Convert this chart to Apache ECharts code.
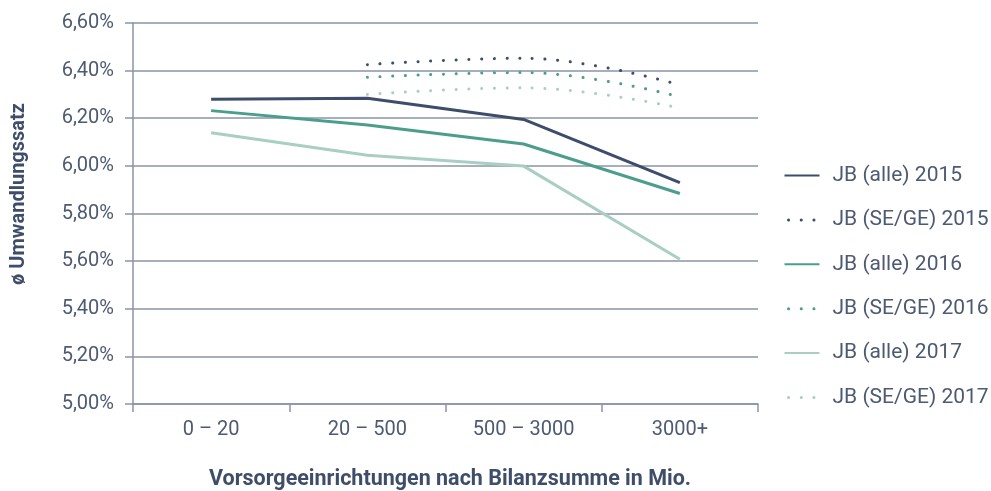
<!DOCTYPE html>
<html><head><meta charset="utf-8">
<script src="https://cdn.jsdelivr.net/npm/echarts@6/dist/echarts.min.js"></script>
<style>html,body{margin:0;padding:0;background:#fff}#c{width:991px;height:491px}</style>
</head><body><div id="c"></div>
<script>
var categories = ['0 – 20', '20 – 500', '500 – 3000', '3000+'];
var alle2015 = [6.28, 6.284, 6.195, 5.93];
var sege2015 = [null, 6.425, 6.452, 6.34];
var alle2016 = [6.232, 6.172, 6.092, 5.884];
var sege2016 = [null, 6.372, 6.392, 6.29];
var alle2017 = [6.139, 6.045, 5.999, 5.608];
var sege2017 = [null, 6.300, 6.328, 6.243];
var seriesNames = ['JB (alle) 2015', 'JB (SE/GE) 2015', 'JB (alle) 2016', 'JB (SE/GE) 2016', 'JB (alle) 2017', 'JB (SE/GE) 2017'];
var yTitle = 'ø Umwandlungssatz';
var xTitle = 'Vorsorgeeinrichtungen nach Bilanzsumme in Mio.';

var cDark = '#3e4e6a', cTeal = '#4b9e8c', cLight = '#a9cfc3';
var font = 'Roboto';
var labelColor = '#4d5a72';
var lineCol = '#8a94a6';
var dotDash = [0.1, 12.6];

function solid(name, data, color) {
  return { name: name, type: 'line', data: data, symbol: 'none', color: color,
    lineStyle: { color: color, width: 3 }, emphasis: { disabled: true } };
}
function dotted(name, data, color) {
  return { name: name, type: 'line', data: data, symbol: 'none', smooth: 0.4, color: color,
    lineStyle: { color: color, width: 3, type: dotDash, cap: 'round' }, emphasis: { disabled: true } };
}
var legendData = seriesNames.map(function (n, i) {
  return i % 2 === 1 ? { name: n, lineStyle: { type: dotDash, dashOffset: -4, cap: 'round', width: 3 } } : { name: n };
});

var chart = echarts.init(document.getElementById('c'), null, { renderer: 'canvas' });
chart.setOption({
  animation: false,
  grid: { left: 133, right: 233, top: 23, bottom: 87, containLabel: false, outerBoundsMode: 'none' },
  legend: {
    orient: 'vertical', left: 778, top: 160, itemWidth: 35, itemHeight: 14, itemGap: 23.4,
    data: legendData,
    itemStyle: { opacity: 0 },
    textStyle: { fontFamily: font, fontSize: 21, color: labelColor, padding: [0, 0, 0, 8] }
  },
  graphic: [
    { type: 'text', x: 450, y: 480, style: { text: xTitle, font: 'bold 21.5px Roboto', fill: cDark, align: 'center', verticalAlign: 'middle' } },
    { type: 'text', x: 19, y: 194, rotation: Math.PI / 2, style: { text: yTitle, font: 'bold 20px Roboto', fill: cDark, align: 'center', verticalAlign: 'middle' } }
  ],
  xAxis: {
    type: 'category', data: categories, boundaryGap: true,
    axisLine: { lineStyle: { color: lineCol, width: 1.5 } },
    axisTick: { show: true, length: 8, lineStyle: { color: lineCol, width: 1.5 } },
    axisLabel: { fontFamily: font, fontSize: 20, color: labelColor, margin: 16 },
    splitLine: { show: false }
  },
  yAxis: {
    type: 'value', min: 5, max: 6.6, interval: 0.2,
    axisLine: { show: true, lineStyle: { color: lineCol, width: 1.5 } },
    axisTick: { show: true, length: 8, lineStyle: { color: lineCol, width: 1.5 } },
    axisLabel: { fontFamily: font, fontSize: 20, color: labelColor, margin: 19,
      formatter: function (v) { return v.toFixed(2).replace('.', ',') + '%'; } },
    splitLine: { show: true, lineStyle: { color: lineCol, width: 1.5 } }
  },
  series: [
    solid(seriesNames[0], alle2015, cDark),
    dotted(seriesNames[1], sege2015, cDark),
    solid(seriesNames[2], alle2016, cTeal),
    dotted(seriesNames[3], sege2016, cTeal),
    solid(seriesNames[4], alle2017, cLight),
    dotted(seriesNames[5], sege2017, cLight)
  ]
});
</script></body></html>
